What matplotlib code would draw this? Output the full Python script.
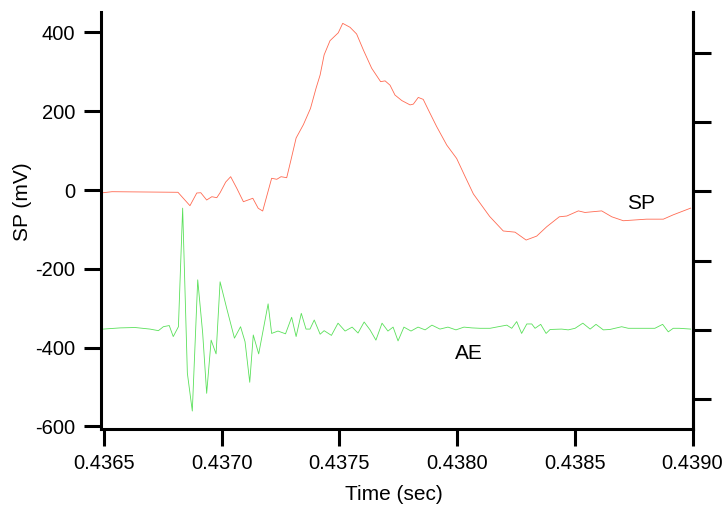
import matplotlib
matplotlib.use("Agg")
import matplotlib.pyplot as plt

# ---- data ----
sp_time = [0.436496, 0.436534, 0.436814, 0.436865, 0.436894, 0.436911, 0.436936, 0.436958,
           0.436979, 0.436993, 0.437017, 0.437038, 0.437064, 0.437092, 0.437132, 0.437155,
           0.437174, 0.437212, 0.437234, 0.437252, 0.437276, 0.437294, 0.437316, 0.437347,
           0.437377, 0.437401, 0.437418, 0.437435, 0.437460, 0.437495, 0.437514, 0.437545,
           0.437573, 0.437602, 0.437637, 0.437675, 0.437694, 0.437715, 0.437736, 0.437765,
           0.437800, 0.437814, 0.437835, 0.437856, 0.437878, 0.437913, 0.437956, 0.437998,
           0.438034, 0.438069, 0.438138, 0.438196, 0.438246, 0.438293, 0.438338, 0.438381,
           0.438434, 0.438466, 0.438515, 0.438543, 0.438614, 0.438657, 0.438706, 0.438805,
           0.438876, 0.438918, 0.438992]
sp_mv = [-6.9, -4.3, -5.8, -39.8, -7.6, -6.9, -25.4, -17, -19.5, -6.9, 20.3, 33.8, 4.3, -29.7,
         -21, -46.4, -53.3, 29.7, 27.2, 33.8, 31.2, 76, 132, 166, 207, 259, 292, 343, 379, 399,
         423, 413, 396, 355, 309, 275, 277, 266, 241, 227, 216, 218, 235, 230, 203, 161, 114,
         80, 34, -10, -67, -104, -107, -127, -117, -93, -68, -66, -53, -57, -53, -68, -78, -74,
         -74, -63, -46]

ae_time = [0.436497, 0.436568, 0.436632, 0.436695, 0.436731, 0.436752, 0.436777, 0.436794,
           0.436816, 0.436834, 0.436854, 0.436875, 0.436898, 0.436919, 0.436936, 0.436955,
           0.436976, 0.436993, 0.437021, 0.437054, 0.437080, 0.437099, 0.437119, 0.437134,
           0.437157, 0.437197, 0.437212, 0.437239, 0.437271, 0.437297, 0.437316, 0.437338,
           0.437358, 0.437375, 0.437393, 0.437418, 0.437435, 0.437466, 0.437494, 0.437524,
           0.437554, 0.437579, 0.437605, 0.437630, 0.437655, 0.437681, 0.437706, 0.437728,
           0.437749, 0.437774, 0.437804, 0.437834, 0.437864, 0.437893, 0.437927, 0.437961,
           0.437995, 0.438029, 0.438063, 0.438097, 0.438140, 0.438175, 0.438211, 0.438232,
           0.438253, 0.438274, 0.438296, 0.438317, 0.438331, 0.438355, 0.438378, 0.438395,
           0.438444, 0.438472, 0.438501, 0.438534, 0.438565, 0.438590, 0.438621, 0.438649,
           0.438699, 0.438727, 0.438805, 0.438840, 0.438873, 0.438897, 0.438918, 0.438944,
           0.438992]
ae_val = [-353, -350, -349, -353, -357, -347, -344, -372, -347, -46, -465, -561, -228, -363,
          -516, -381, -416, -233, -300, -376, -347, -385, -488, -368, -416, -289, -364, -358,
          -365, -323, -372, -313, -353, -353, -330, -366, -357, -369, -338, -358, -348, -363,
          -335, -355, -381, -338, -358, -348, -383, -348, -358, -348, -355, -343, -353, -348,
          -355, -348, -350, -351, -351, -347, -343, -351, -334, -364, -340, -340, -351, -341,
          -364, -354, -353, -355, -351, -338, -353, -341, -355, -354, -347, -351, -351, -351,
          -341, -360, -351, -351, -353]

x_ticks = [0.4365, 0.4370, 0.4375, 0.4380, 0.4385, 0.4390]
x_tick_labels = ["0.4365", "0.4370", "0.4375", "0.4380", "0.4385", "0.4390"]
y_ticks = [-600, -400, -200, 0, 200, 400]
right_ticks = [0, 1, 2, 3, 4, 5]

plt.rcParams['font.family'] = ['Liberation Sans', 'DejaVu Sans']
FS = 14.5

fig = plt.figure(figsize=(7.22, 5.08), dpi=100)
ax = fig.add_axes([100.5 / 722, 1 - 429 / 508, 592.5 / 722, 417 / 508])

ax.plot(sp_time, sp_mv, color='#ff6a52', lw=0.6)
ax.plot(ae_time, ae_val, color='#5ae05a', lw=0.6)

ax.set_xlim(0.436485, 0.439002)
ax.set_ylim(-606.6, 451.8)
ax.set_xticks(x_ticks)
ax.set_xticklabels(x_tick_labels)
ax.set_yticks(y_ticks)
ax.set_yticklabels([str(v) for v in y_ticks])

for side in ['left', 'bottom', 'right']:
    ax.spines[side].set_linewidth(2.2)
ax.spines['top'].set_visible(False)
ax.tick_params(axis='both', direction='out', length=12, width=2.2, pad=6.0,
               labelsize=FS)

ax2 = ax.twinx()
ax2.set_ylim(-0.4335, 5.592)
ax2.set_yticks(right_ticks)
ax2.set_yticklabels([])
ax2.spines['top'].set_visible(False)
ax2.spines['right'].set_linewidth(2.2)
ax2.spines['left'].set_visible(False)
ax2.spines['bottom'].set_visible(False)
ax2.tick_params(axis='y', direction='out', length=13, width=2.2)

ax.text(0.438781, -33, "SP", ha='center', va='center', fontsize=15)
ax.text(0.438051, -414.5, "AE", ha='center', va='center', fontsize=15)

fig.text(393.5 / 722, 1 - 495 / 508, "Time (sec)", ha='center', va='center', fontsize=15)
fig.text(22 / 722, 1 - 202 / 508, "SP (mV)", ha='center', va='center', rotation=90,
         fontsize=15)

fig.savefig("out.png", dpi=100)
